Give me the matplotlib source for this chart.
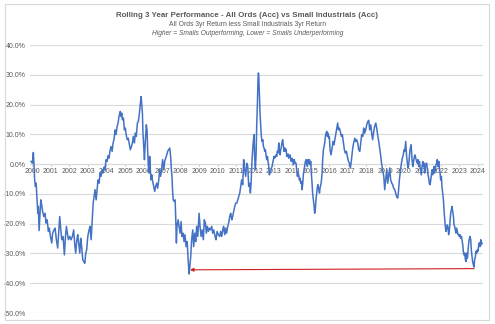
import matplotlib
matplotlib.use("Agg")
import matplotlib.pyplot as plt
from matplotlib.patches import Rectangle

plt.rcParams['font.family'] = ['Liberation Sans Narrow', 'Liberation Sans', 'DejaVu Sans']

# rolling 3yr relative return (decimal year, %)
dates = [
    1999.95, 2000.02, 2000.07, 2000.11, 2000.14, 2000.18, 2000.22, 2000.27, 2000.31, 2000.34,
    2000.38, 2000.43, 2000.47, 2000.52, 2000.57, 2000.63, 2000.70, 2000.75, 2000.81, 2000.88,
    2000.93, 2000.99, 2001.06, 2001.11, 2001.18, 2001.24, 2001.31, 2001.38, 2001.44, 2001.49,
    2001.54, 2001.60, 2001.67, 2001.74, 2001.80, 2001.85, 2001.90, 2001.96, 2002.03, 2002.10,
    2002.17, 2002.24, 2002.30, 2002.35, 2002.41, 2002.46, 2002.51, 2002.57, 2002.62, 2002.67,
    2002.73, 2002.78, 2002.84, 2002.89, 2002.94, 2003.00, 2003.07, 2003.12, 2003.18, 2003.23,
    2003.29, 2003.34, 2003.39, 2003.45, 2003.50, 2003.55, 2003.61, 2003.66, 2003.71, 2003.77,
    2003.82, 2003.88, 2003.93, 2003.98, 2004.04, 2004.09, 2004.14, 2004.20, 2004.25, 2004.31,
    2004.36, 2004.41, 2004.47, 2004.52, 2004.58, 2004.63, 2004.68, 2004.72, 2004.75, 2004.79,
    2004.83, 2004.86, 2004.92, 2004.97, 2005.02, 2005.08, 2005.13, 2005.18, 2005.24, 2005.29,
    2005.35, 2005.40, 2005.45, 2005.51, 2005.56, 2005.61, 2005.67, 2005.72, 2005.78, 2005.83,
    2005.87, 2005.90, 2005.94, 2005.97, 2006.01, 2006.05, 2006.08, 2006.12, 2006.15, 2006.19,
    2006.22, 2006.26, 2006.30, 2006.33, 2006.37, 2006.40, 2006.44, 2006.49, 2006.55, 2006.60,
    2006.65, 2006.71, 2006.76, 2006.82, 2006.87, 2006.92, 2006.98, 2007.03, 2007.09, 2007.14,
    2007.19, 2007.25, 2007.30, 2007.35, 2007.41, 2007.46, 2007.50, 2007.53, 2007.57, 2007.60,
    2007.64, 2007.70, 2007.73, 2007.77, 2007.80, 2007.86, 2007.91, 2007.97, 2008.02, 2008.07,
    2008.13, 2008.18, 2008.23, 2008.29, 2008.35, 2008.40, 2008.45, 2008.49, 2008.54, 2008.59,
    2008.65, 2008.70, 2008.76, 2008.81, 2008.86, 2008.92, 2008.99, 2009.04, 2009.10, 2009.15,
    2009.22, 2009.27, 2009.33, 2009.38, 2009.43, 2009.49, 2009.54, 2009.60, 2009.67, 2009.72,
    2009.78, 2009.85, 2009.90, 2009.96, 2010.03, 2010.10, 2010.15, 2010.21, 2010.26, 2010.31,
    2010.37, 2010.42, 2010.47, 2010.53, 2010.58, 2010.64, 2010.69, 2010.75, 2010.80, 2010.85,
    2010.91, 2010.96, 2011.02, 2011.07, 2011.12, 2011.18, 2011.23, 2011.28, 2011.34, 2011.39,
    2011.44, 2011.50, 2011.55, 2011.61, 2011.66, 2011.71, 2011.75, 2011.79, 2011.84, 2011.90,
    2011.95, 2011.98, 2012.02, 2012.06, 2012.09, 2012.13, 2012.16, 2012.18, 2012.20, 2012.22,
    2012.24, 2012.27, 2012.31, 2012.34, 2012.38, 2012.42, 2012.45, 2012.49, 2012.52, 2012.56,
    2012.59, 2012.63, 2012.67, 2012.70, 2012.74, 2012.77, 2012.81, 2012.85, 2012.88, 2012.92,
    2012.95, 2012.99, 2013.02, 2013.06, 2013.10, 2013.13, 2013.17, 2013.20, 2013.24, 2013.28,
    2013.31, 2013.35, 2013.38, 2013.42, 2013.46, 2013.49, 2013.53, 2013.56, 2013.60, 2013.63,
    2013.67, 2013.71, 2013.74, 2013.78, 2013.81, 2013.85, 2013.89, 2013.92, 2013.96, 2013.99,
    2014.03, 2014.07, 2014.10, 2014.14, 2014.17, 2014.21, 2014.24, 2014.28, 2014.32, 2014.35,
    2014.39, 2014.42, 2014.46, 2014.50, 2014.53, 2014.57, 2014.60, 2014.64, 2014.67, 2014.71,
    2014.75, 2014.78, 2014.82, 2014.85, 2014.89, 2014.93, 2014.96, 2015.00, 2015.03, 2015.07,
    2015.10, 2015.14, 2015.18, 2015.21, 2015.25, 2015.28, 2015.32, 2015.36, 2015.39, 2015.43,
    2015.47, 2015.50, 2015.54, 2015.57, 2015.61, 2015.64, 2015.68, 2015.72, 2015.75, 2015.79,
    2015.82, 2015.86, 2015.90, 2015.93, 2015.97, 2016.00, 2016.04, 2016.09, 2016.15, 2016.20,
    2016.25, 2016.31, 2016.36, 2016.42, 2016.45, 2016.49, 2016.54, 2016.59, 2016.65, 2016.70,
    2016.76, 2016.81, 2016.86, 2016.92, 2016.97, 2017.03, 2017.08, 2017.13, 2017.17, 2017.21,
    2017.26, 2017.31, 2017.37, 2017.42, 2017.47, 2017.53, 2017.58, 2017.64, 2017.69, 2017.74,
    2017.80, 2017.85, 2017.90, 2017.96, 2018.01, 2018.07, 2018.12, 2018.17, 2018.23, 2018.28,
    2018.33, 2018.39, 2018.44, 2018.50, 2018.55, 2018.61, 2018.66, 2018.71, 2018.77, 2018.82,
    2018.87, 2018.93, 2018.98, 2019.03, 2019.09, 2019.14, 2019.20, 2019.25, 2019.30, 2019.36,
    2019.41, 2019.46, 2019.52, 2019.57, 2019.62, 2019.68, 2019.72, 2019.77, 2019.82, 2019.88,
    2019.93, 2019.98, 2020.02, 2020.06, 2020.11, 2020.13, 2020.16, 2020.20, 2020.24, 2020.27,
    2020.31, 2020.34, 2020.40, 2020.42, 2020.45, 2020.49, 2020.52, 2020.56, 2020.60, 2020.63,
    2020.67, 2020.70, 2020.74, 2020.77, 2020.81, 2020.85, 2020.88, 2020.92, 2020.95, 2020.99,
    2021.03, 2021.06, 2021.10, 2021.13, 2021.17, 2021.21, 2021.24, 2021.28, 2021.31, 2021.35,
    2021.38, 2021.42, 2021.46, 2021.49, 2021.53, 2021.56, 2021.60, 2021.64, 2021.67, 2021.71,
    2021.74, 2021.78, 2021.81, 2021.85, 2021.89, 2021.92, 2021.96, 2021.99, 2022.03, 2022.06,
    2022.10, 2022.14, 2022.17, 2022.21, 2022.24, 2022.28, 2022.32, 2022.35, 2022.39, 2022.42,
    2022.46, 2022.50, 2022.53, 2022.57, 2022.60, 2022.64, 2022.68, 2022.71, 2022.75, 2022.78,
    2022.82, 2022.85, 2022.89, 2022.93, 2022.96, 2023.00, 2023.03, 2023.07, 2023.11, 2023.14,
    2023.18, 2023.21, 2023.25, 2023.29, 2023.32, 2023.36, 2023.39, 2023.43, 2023.46, 2023.50,
    2023.54, 2023.57, 2023.61, 2023.64, 2023.68, 2023.71, 2023.75, 2023.79, 2023.82, 2023.86,
    2023.89, 2023.93, 2023.96, 2024.00, 2024.04, 2024.07, 2024.11, 2024.15, 2024.18, 2024.22,
]
rel_return = [
    0.9, 0.3, 3.9, -0.8, -5.3, -7.5, -6.4, -12.0, -16.5, -14.2,
    -22.3, -16.5, -12.0, -13.7, -15.9, -17.6, -16.5, -19.8, -18.7, -22.6,
    -21.5, -24.3, -26.5, -23.2, -22.1, -21.5, -25.4, -28.2, -22.1, -17.6,
    -21.5, -25.4, -24.3, -30.5, -24.3, -20.9, -23.2, -25.4, -24.3, -25.4,
    -24.3, -22.1, -27.1, -29.9, -25.4, -23.7, -26.5, -29.9, -24.9, -27.7,
    -32.1, -32.7, -33.3, -29.9, -28.8, -24.3, -22.1, -20.9, -25.4, -19.8,
    -13.1, -10.9, -8.6, -12.0, -8.6, -5.3, -6.4, -3.0, -4.1, -1.9,
    -3.0, -1.0, -1.9, 1.5, 0.9, 2.8, 2.0, 4.6, 5.9, 4.3,
    7.1, 8.2, 11.5, 9.9, 12.7, 13.8, 16.0, 17.1, 17.7, 16.0,
    17.1, 14.9, 15.5, 11.5, 12.1, 9.3, 8.2, 8.7, 6.5, 4.8,
    5.9, 7.1, 9.3, 7.1, 10.4, 9.3, 13.8, 14.3, 17.1, 20.5,
    22.7, 20.5, 17.1, 10.4, 5.9, 1.5, 5.9, 10.4, 13.2, 11.5,
    4.8, -0.8, -3.0, 2.6, -1.9, -5.3, -3.6, -5.8, -7.5, -9.2,
    -7.5, -6.4, -8.1, -5.3, -1.9, -4.1, -1.3, 1.5, -1.9, 0.9,
    2.0, 3.1, 4.3, 4.8, 5.4, 2.6, -1.9, -4.1, -9.7, -12.0,
    -12.5, -12.0, -17.6, -26.5, -20.9, -18.7, -20.9, -23.2, -19.3, -24.3,
    -23.2, -26.0, -23.7, -27.7, -26.0, -32.1, -36.9, -34.6, -31.0, -25.4,
    -22.1, -27.7, -23.2, -26.0, -20.9, -24.3, -16.5, -20.9, -24.3, -22.1,
    -25.4, -18.7, -19.8, -23.2, -20.9, -22.6, -21.5, -22.1, -20.9, -23.2,
    -22.1, -24.3, -25.4, -22.6, -23.7, -24.3, -22.6, -24.3, -22.1, -20.9,
    -23.7, -21.5, -23.2, -20.9, -19.8, -17.6, -16.5, -18.7, -17.6, -15.9,
    -14.2, -13.1, -13.1, -12.0, -10.9, -9.7, -7.5, -5.3, -6.9, 1.5,
    -1.9, -4.1, 0.3, -0.8, -7.5, -6.4, -9.7, -6.4, 1.5, 7.1,
    9.9, 2.6, -1.9, 3.7, 12.7, 20.5, 28.3, 30.6, 30.0, 26.1,
    21.6, 17.1, 12.7, 9.3, 7.6, 8.2, 5.9, 5.4, 4.3, 4.8,
    3.1, 1.5, 2.6, 0.9, -0.8, -3.6, -3.0, -2.5, -1.3, -0.8,
    0.3, 1.5, 2.6, 2.0, 2.6, 3.1, 2.6, 4.3, 3.7, 7.1,
    4.3, 3.1, 4.8, 5.9, 7.6, 8.2, 5.9, 4.3, 5.4, 4.3,
    5.0, 2.6, 3.1, 3.4, 2.0, 2.6, 3.1, 1.5, 0.9, 2.0,
    1.5, -0.2, 1.5, 0.9, 0.3, 0.3, -1.9, -4.1, -3.0, -3.6,
    -5.3, -4.7, -6.4, -5.8, -8.6, -6.4, -3.6, -1.9, -0.8, 0.9,
    1.5, 0.3, -0.8, 1.5, 0.3, 1.5, -0.2, 0.9, -3.0, -6.4,
    -9.7, -12.0, -14.2, -16.5, -14.8, -12.0, -9.7, -7.5, -6.9, -8.6,
    -9.7, -8.1, -6.9, -5.8, -3.0, 1.5, 4.8, 5.9, 7.1, 9.3,
    10.4, 11.0, 9.3, 10.4, 8.7, 9.3, 4.8, 3.1, 5.4, 7.6,
    6.5, 8.7, 10.4, 12.7, 13.8, 11.5, 12.1, 11.0, 9.3, 9.9,
    7.1, 4.8, 3.7, 4.3, 2.6, 0.9, 0.3, -1.3, 0.3, 2.6,
    5.4, 7.1, 8.7, 7.6, 8.2, 7.1, 4.8, 4.3, 7.1, 9.9,
    9.3, 12.1, 10.4, 11.5, 13.2, 14.3, 14.7, 11.5, 13.2, 10.4,
    8.2, 11.0, 12.7, 13.8, 12.1, 9.3, 7.6, 5.4, 2.6, -0.2,
    -1.9, -4.1, -8.6, -5.3, -1.9, -6.4, -3.6, -1.3, -5.3, -6.4,
    -6.9, -8.1, -8.6, -9.7, -10.9, -11.4, -9.2, -5.3, -2.5, 0.3,
    2.0, 3.1, 4.8, 4.3, 7.6, 5.4, 2.6, 0.3, -1.3, -0.2,
    2.6, 4.8, 6.5, 4.8, 1.5, -0.8, 0.3, 2.0, 3.1, 2.6,
    1.5, 0.9, 0.3, 1.5, -0.8, 0.9, -0.8, -2.5, -3.6, -0.8,
    0.9, -0.8, 0.3, -3.0, -0.8, 0.3, 0.3, -1.9, -3.6, -4.7,
    -6.4, -6.9, -5.3, -3.6, -1.9, -3.6, -1.9, -0.8, -3.0, -1.3,
    -0.2, 0.3, 1.5, -0.8, 0.9, -1.3, -3.0, -5.3, -4.1, -7.5,
    -9.7, -12.0, -15.3, -18.7, -20.9, -22.6, -21.5, -20.4, -21.5, -23.7,
    -22.1, -18.7, -16.5, -15.3, -14.2, -15.9, -17.6, -20.4, -21.0, -22.1,
    -23.2, -21.5, -22.6, -23.7, -23.7, -24.3, -23.7, -24.9, -24.3, -25.4,
    -27.1, -29.3, -30.5, -29.9, -32.1, -32.7, -29.9, -31.6, -29.3, -26.5,
    -24.9, -24.3, -25.4, -28.8, -31.0, -32.7, -33.8, -34.6, -32.1, -31.0,
    -29.3, -29.9, -28.8, -29.3, -27.1, -26.5, -27.7, -25.4, -27.1, -26.5,
]
years = list(range(2000, 2025))
y_ticks = [40, 30, 20, 10, 0, -10, -20, -30, -40, -50]
# red arrow: from the 2023 low back to the 2008 low
arrow_from = (2023.79, -35.1)
arrow_to = (2008.50, -35.5)

W, H = 495, 324
fig = plt.figure(figsize=(W / 100, H / 100), dpi=100)
# light chart-area border like the Excel original
fig.patches.append(Rectangle((5 / W, 1 - 320 / H), 484 / W, 316 / H, transform=fig.transFigure,
                             fill=False, edgecolor='#D9D9D9', linewidth=0.8))

ax = fig.add_axes([30 / W, 1 - 313 / H, 453 / W, 268 / H])
ax.set_xlim(1999.89, 2024.27)
ax.set_ylim(-50, 40)
ax.set_axisbelow(True)

ax.set_yticks(y_ticks)
ax.set_yticklabels(['{:.1f}%'.format(v) for v in y_ticks])
ax.yaxis.grid(True, color='#D9D9D9', linewidth=0.8)
ax.tick_params(axis='y', length=0, pad=3, labelsize=5, labelcolor='#595959')

ax.set_xticks(years)
ax.set_xticklabels([str(y) for y in years])
ax.tick_params(axis='x', length=1.5, width=0.6, color='#BFBFBF', pad=1.2,
               labelsize=5, labelcolor='#595959')

for s in ['top', 'right', 'left']:
    ax.spines[s].set_visible(False)
ax.spines['bottom'].set_position(('data', 0))
ax.spines['bottom'].set_color('#D9D9D9')
ax.spines['bottom'].set_linewidth(0.8)

ax.plot(dates, rel_return, color='#4472C4', linewidth=1.1, zorder=3)

ax.annotate('', xy=arrow_to, xytext=arrow_from,
            arrowprops=dict(arrowstyle='-|>', color='#D02020', lw=0.8,
                            mutation_scale=5, shrinkA=0, shrinkB=0), zorder=4)

fig.text(0.5, 1 - 15.7 / H, 'Rolling 3 Year Performance - All Ords (Acc) vs Small Industrials (Acc)',
         ha='center', va='center', fontsize=5.7, fontweight='bold', color='#595959')
fig.text(0.5, 1 - 25 / H, 'All Ords 3yr Return less Small Industrials 3yr Return',
         ha='center', va='center', fontsize=4.9, color='#595959')
fig.text(0.5, 1 - 33.3 / H, 'Higher = Smalls Outperforming, Lower = Smalls Underperforming',
         ha='center', va='center', fontsize=4.8, style='italic', color='#595959')

fig.savefig('out.png', dpi=100)
